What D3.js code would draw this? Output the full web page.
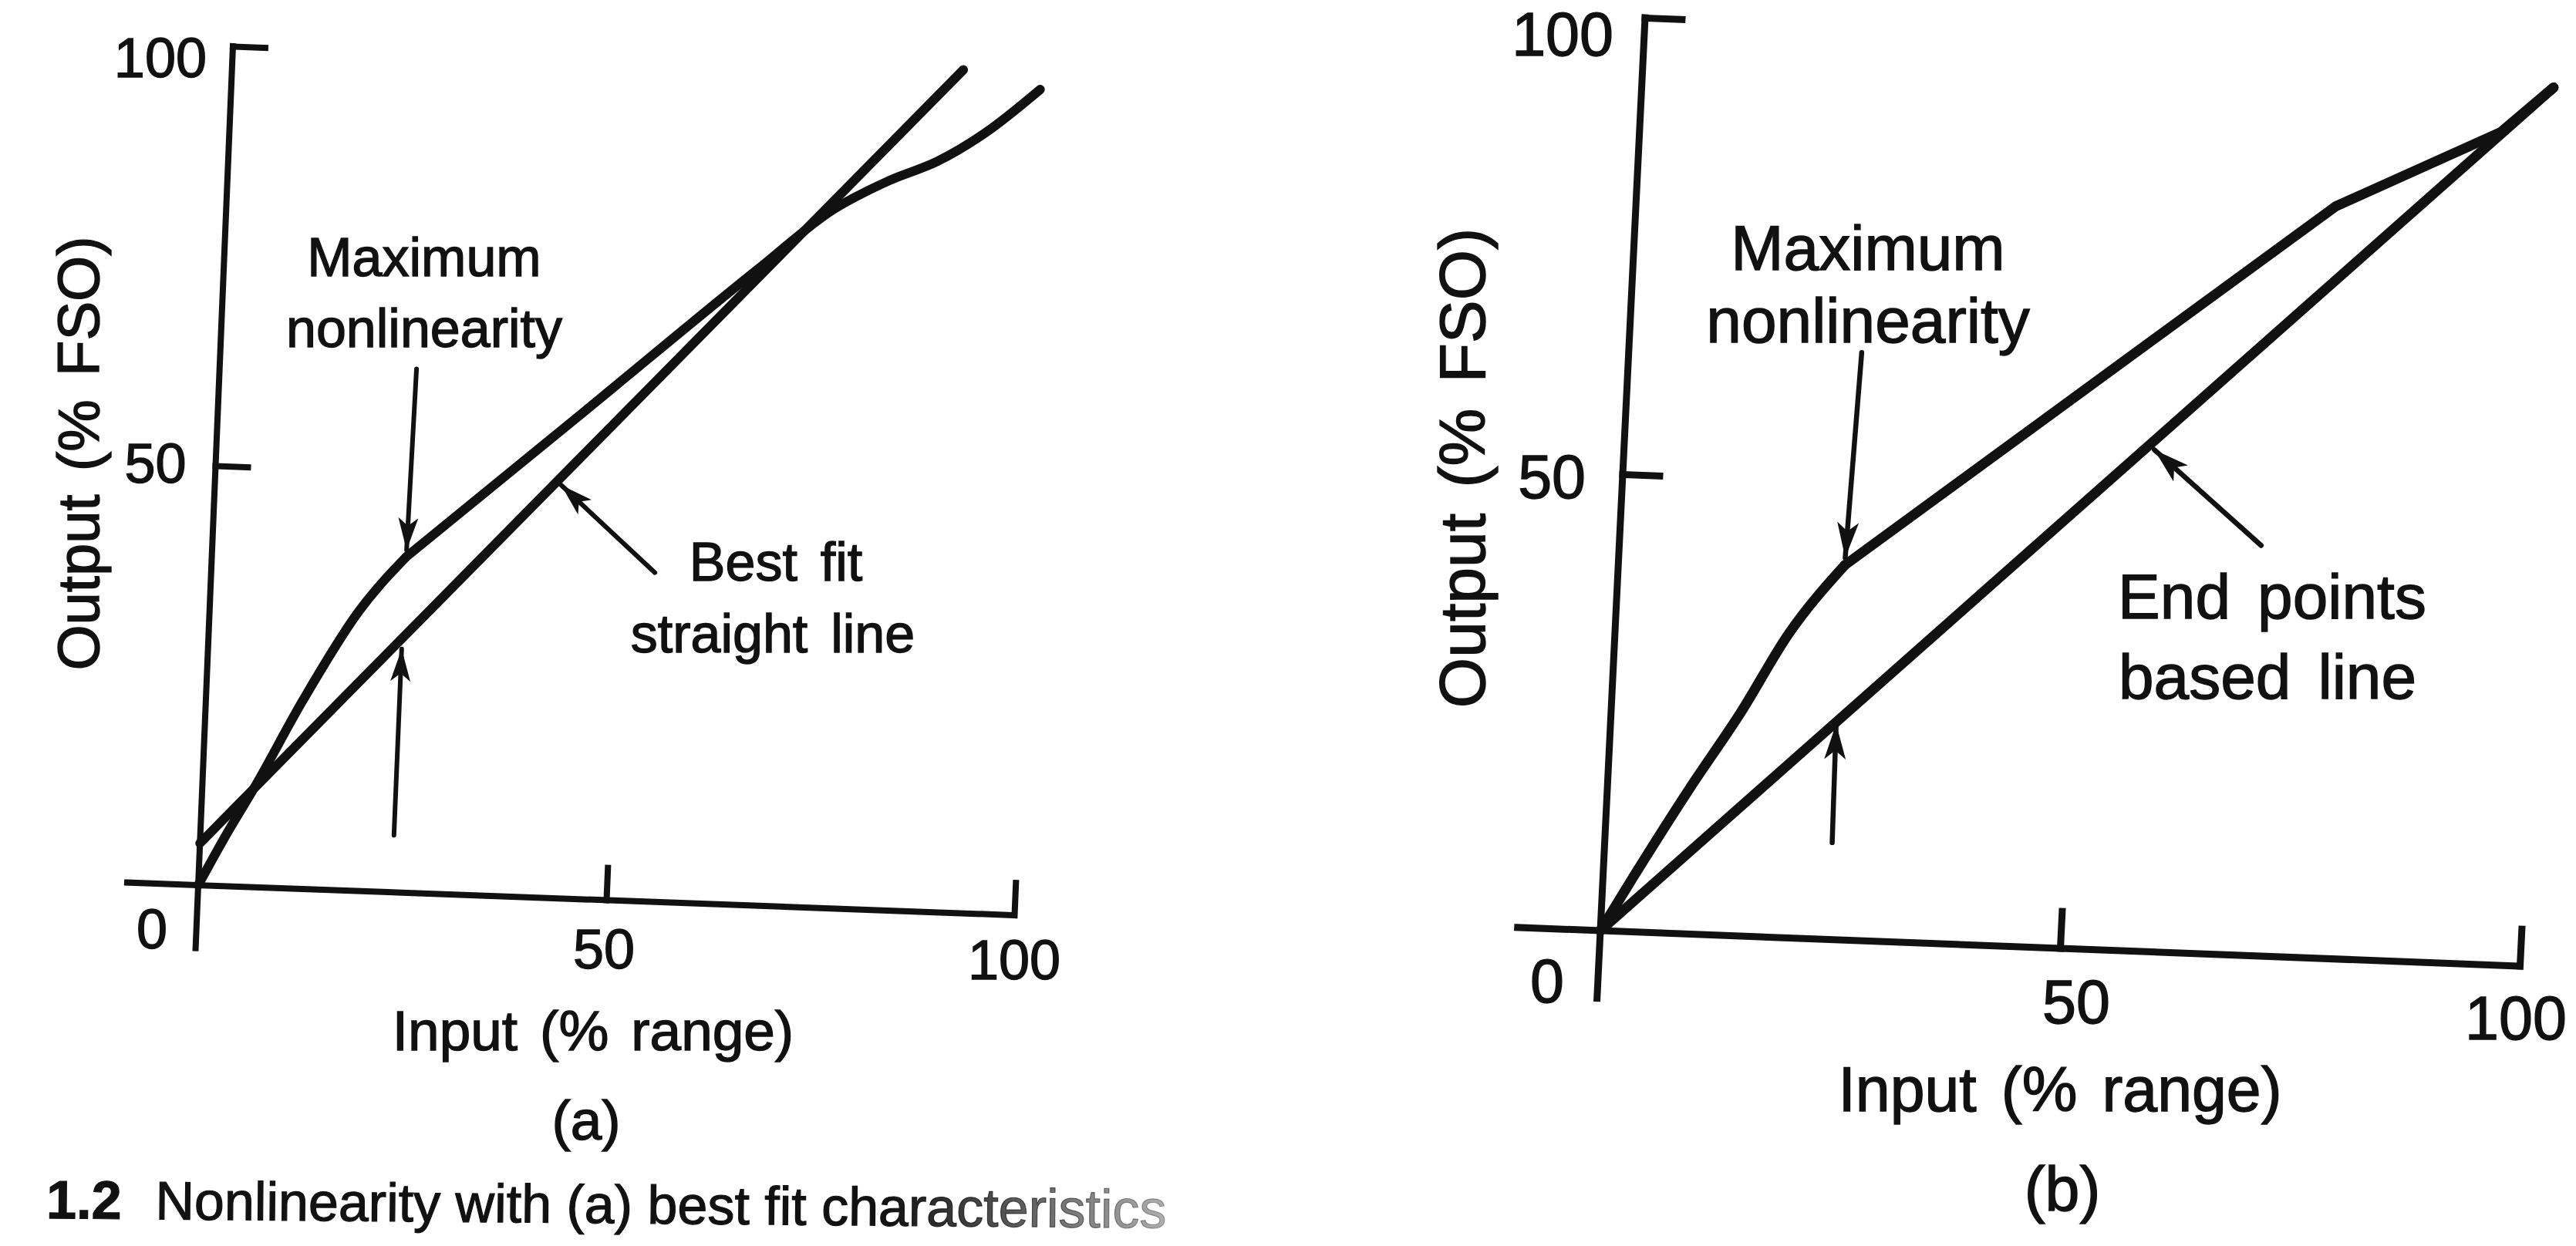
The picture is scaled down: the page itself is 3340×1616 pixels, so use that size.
<!DOCTYPE html>
<html><head><meta charset="utf-8">
<script src="https://cdn.jsdelivr.net/npm/d3@7"></script>
<style>
html,body{margin:0;padding:0;background:#fff;}
svg{display:block;background:#fff;}
text{font-family:"Liberation Sans", Arial, Helvetica, sans-serif; fill:#111; stroke:#111; stroke-width:1.4px;}
</style></head><body>
<svg id="chart" width="3340" height="1616"></svg>
<script>
// ---------------- data ----------------
const xTicks = [50, 100];
const yTicks = [50, 100];
const xTickLabels = ["50", "100"];
const yTickLabels = ["50", "100"];
const originLabel = "0";
const xTitle = "Input (% range)";
const yTitle = "Output (% FSO)";

// panel (a): characteristic curve and best-fit straight line
const curveA_x = [0, 3.0, 6.4, 11.9, 18.2, 23.8, 45, 65.4, 74.3, 81, 86.8, 92.5, 99];
const curveA_y = [0, 5.8, 11.9, 22.5, 33.2, 40, 58.2, 75.8, 83.2, 86.9, 89.4, 93, 98.4];
const kinkA = 5;
const bestFit_x = [0, 89.5];
const bestFit_y = [5, 100.4];
const arrowsA_from = [[24.1, 62.4], [23.7, 6.8], [54.3, 39.2]];
const arrowsA_to   = [[23.8, 40.8], [23.7, 29.0], [42.4, 49.2]];
const labelsA = [["Maximum", "nonlinearity"], ["Best fit", "straight line"]];
const captionA = "(a)";

// panel (b): characteristic curve and end-points based line
const curveB_x = [0, 3.4, 9.1, 14, 18.9, 24.6, 76, 93.5, 99];
const curveB_y = [0, 6.2, 16.2, 24.3, 33.3, 41, 82.3, 91.1, 96.2];
const kinkB = 5;
const endLine_x = [0, 99];
const endLine_y = [0, 96.2];
const arrowsB_from = [[25.3, 64.3], [24.7, 10.6], [69.7, 44.9]];
const arrowsB_to   = [[24.6, 41.8], [24.5, 23.6], [57.6, 54.9]];
const labelsB = [["Maximum", "nonlinearity"], ["End points", "based line"]];
const captionB = "(b)";

const figCaptionNum = "1.2";
const figCaptionText = "Nonlinearity with (a) best fit characteristics";

// ---------------- layout ----------------
const layoutA = {
  origin: [257, 1148], ux: [1058, 39], uy: [45, -1088],
  axisW: 8, curveW: 12, arrowW: 6, tickLen: 42, yAxisMin: -7.5, xAxisMin: -8.7,
  head: [42, 13],
  tickFont: 72, labelFont: 70, titleFont: 76,
  yTickOff: [[-38, 22], [-34, 40]], originOff: [-40, 82],
  xTickOff: [[-3, 88], [0, 83]],
  xTitlePos: [769, 1362], capPos: [760, 1478], yTitlePos: [128, 588],
  labelPos: [[[550, 358], [550, 450]], [[1006, 753], [1002, 846]]]
};
const layoutB = {
  origin: [2075, 1207], ux: [1192, 46], uy: [58, -1184],
  axisW: 9, curveW: 13, arrowW: 6.5, tickLen: 48, yAxisMin: -7.4, xAxisMin: -9,
  head: [46, 14],
  tickFont: 79, labelFont: 82, titleFont: 84,
  yTickOff: [[-48, 31], [-41, 49]], originOff: [-47, 93],
  xTickOff: [[21, 97], [-5, 95]],
  xTitlePos: [2671, 1441], capPos: [2674, 1570], yTitlePos: [1925, 607],
  labelPos: [[[2422, 350], [2422, 444]], [[2946, 802], [2940, 906]]]
};

const svg = d3.select("#chart");
const defs = svg.append("defs");
const INK = "#111";

function drawPanel(id, cfg, d) {
  const Lx = Math.hypot(cfg.ux[0], cfg.ux[1]);
  const Ly = Math.hypot(cfg.uy[0], cfg.uy[1]);
  const xs = d3.scaleLinear().domain([0, 100]).range([0, Lx]);
  const ys = d3.scaleLinear().domain([0, 100]).range([0, -Ly]);
  const a = cfg.ux[0] / Lx, b = cfg.ux[1] / Lx, c = -cfg.uy[0] / Ly, dd = -cfg.uy[1] / Ly;
  const e = cfg.origin[0], f = cfg.origin[1];
  const P = (x, y) => { const lx = xs(x), ly = ys(y); return [e + a * lx + c * ly, f + b * lx + dd * ly]; };

  // arrow marker
  defs.append("marker").attr("id", "head" + id)
    .attr("markerUnits", "userSpaceOnUse")
    .attr("viewBox", `0 ${-cfg.head[1]} ${cfg.head[0]} ${2 * cfg.head[1]}`)
    .attr("markerWidth", cfg.head[0]).attr("markerHeight", 2 * cfg.head[1])
    .attr("refX", cfg.head[0]).attr("refY", 0).attr("orient", "auto")
    .append("path").attr("d", `M0,${-cfg.head[1]}L${cfg.head[0]},0L0,${cfg.head[1]}L${cfg.head[0] * 0.25},0Z`).attr("fill", INK);

  const g = svg.append("g").attr("transform", `matrix(${a},${b},${c},${dd},${e},${f})`);
  const line = d3.line().x(p => xs(p[0])).y(p => ys(p[1]));

  // axes (domain lines)
  g.append("path").attr("d", line([[0, cfg.yAxisMin], [0, 100]]))
    .attr("fill", "none").attr("stroke", INK).attr("stroke-width", cfg.axisW).attr("stroke-linecap", "square");
  g.append("path").attr("d", line([[cfg.xAxisMin, 0], [100, 0]]))
    .attr("fill", "none").attr("stroke", INK).attr("stroke-width", cfg.axisW).attr("stroke-linecap", "square");
  // ticks via d3 axes
  const yAxis = d3.axisRight(ys).tickValues(yTicks).tickSize(cfg.tickLen).tickFormat("");
  const xAxis = d3.axisTop(xs).tickValues(xTicks).tickSize(cfg.tickLen).tickFormat("");
  [yAxis, xAxis].forEach(ax => {
    const ag = g.append("g").call(ax);
    ag.select(".domain").remove();
    ag.selectAll("text").remove();
    ag.selectAll("line").attr("stroke", INK).attr("stroke-width", cfg.axisW).attr("stroke-linecap", "square");
  });

  // reference straight line
  const sl = d.lineX.map((x, i) => [x, d.lineY[i]]);
  g.append("path").attr("d", line(sl)).attr("fill", "none").attr("stroke", INK)
    .attr("stroke-width", cfg.curveW).attr("stroke-linecap", "round");

  // characteristic curve: smooth part up to the kink, then the rest
  const pts = d.cx.map((x, i) => [x, d.cy[i]]);
  const smooth = d3.line().x(p => xs(p[0])).y(p => ys(p[1])).curve(d3.curveMonotoneX);
  const second = d3.line().x(p => xs(p[0])).y(p => ys(p[1])).curve(d.secondCurve);
  g.append("path").attr("d", smooth(pts.slice(0, d.kink + 1))).attr("fill", "none").attr("stroke", INK)
    .attr("stroke-width", cfg.curveW).attr("stroke-linecap", "round").attr("stroke-linejoin", "round");
  g.append("path").attr("d", second(pts.slice(d.kink))).attr("fill", "none").attr("stroke", INK)
    .attr("stroke-width", cfg.curveW).attr("stroke-linecap", "round").attr("stroke-linejoin", "round");

  // arrows
  d.aFrom.forEach((fr, i) => {
    g.append("path").attr("d", line([fr, d.aTo[i]])).attr("fill", "none").attr("stroke", INK)
      .attr("stroke-width", cfg.arrowW).attr("stroke-linecap", "round")
      .attr("marker-end", `url(#head${id})`);
  });

  // tick labels
  yTicks.forEach((v, i) => {
    const p = P(0, v);
    svg.append("text").attr("x", p[0] + cfg.yTickOff[i][0]).attr("y", p[1] + cfg.yTickOff[i][1])
      .attr("text-anchor", "end").attr("font-size", cfg.tickFont).text(yTickLabels[i]);
  });
  const p0 = P(0, 0);
  svg.append("text").attr("x", p0[0] + cfg.originOff[0]).attr("y", p0[1] + cfg.originOff[1])
    .attr("text-anchor", "end").attr("font-size", cfg.tickFont).text(originLabel);
  xTicks.forEach((v, i) => {
    const p = P(v, 0);
    svg.append("text").attr("x", p[0] + cfg.xTickOff[i][0]).attr("y", p[1] + cfg.xTickOff[i][1])
      .attr("text-anchor", "middle").attr("font-size", cfg.tickFont).text(xTickLabels[i]);
  });

  // titles
  svg.append("text").attr("x", cfg.xTitlePos[0]).attr("y", cfg.xTitlePos[1])
    .attr("text-anchor", "middle").attr("font-size", cfg.titleFont * 0.96).attr("word-spacing", "0.12em").text(xTitle);
  svg.append("text").attr("transform", `translate(${cfg.yTitlePos[0]},${cfg.yTitlePos[1]}) rotate(-90)`)
    .attr("text-anchor", "middle").attr("font-size", cfg.titleFont).attr("word-spacing", "0.12em").text(yTitle);
  svg.append("text").attr("x", cfg.capPos[0]).attr("y", cfg.capPos[1])
    .attr("text-anchor", "middle").attr("font-size", cfg.titleFont * 0.96).text(d.caption);

  // annotation labels
  d.labels.forEach((lines, j) => {
    lines.forEach((t, k) => {
      svg.append("text").attr("x", cfg.labelPos[j][k][0]).attr("y", cfg.labelPos[j][k][1])
        .attr("text-anchor", "middle").attr("font-size", cfg.labelFont)
        .attr("word-spacing", "0.15em").text(t);
    });
  });
}

drawPanel("A", layoutA, {
  cx: curveA_x, cy: curveA_y, kink: kinkA, secondCurve: d3.curveMonotoneX,
  lineX: bestFit_x, lineY: bestFit_y, aFrom: arrowsA_from, aTo: arrowsA_to,
  labels: labelsA, caption: captionA
});
drawPanel("B", layoutB, {
  cx: curveB_x, cy: curveB_y, kink: kinkB, secondCurve: d3.curveLinear,
  lineX: endLine_x, lineY: endLine_y, aFrom: arrowsB_from, aTo: arrowsB_to,
  labels: labelsB, caption: captionB
});

// figure caption (fading to the right as in the scan)
const grad = defs.append("linearGradient").attr("id", "fade").attr("gradientUnits", "userSpaceOnUse")
  .attr("x1", 1150).attr("y1", 0).attr("x2", 1650).attr("y2", 0);
grad.append("stop").attr("offset", 0).attr("stop-color", INK).attr("stop-opacity", 1);
grad.append("stop").attr("offset", 1).attr("stop-color", INK).attr("stop-opacity", 0.08);
const cap = svg.append("text").attr("x", 60).attr("y", 1580)
  .attr("transform", "rotate(0.5 60 1580)")
  .attr("font-size", 70).style("fill", "url(#fade)").style("stroke", "url(#fade)").style("stroke-width", "1.2px");
cap.append("tspan").attr("font-weight", "bold").text(figCaptionNum);
cap.append("tspan").attr("dx", 44).text(figCaptionText);
</script>
</body></html>
